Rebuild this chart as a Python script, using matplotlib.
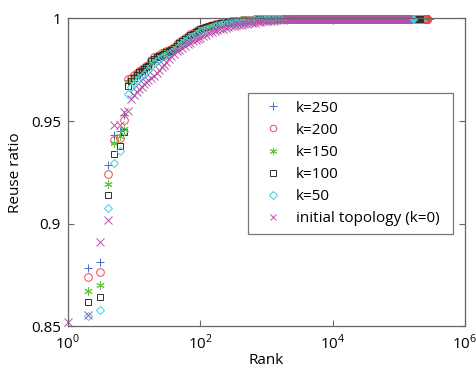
import numpy as np
import matplotlib
matplotlib.use('Agg')
import matplotlib.pyplot as plt

nan = float('nan')  # point below the visible range, not readable

# ranks at which the rising part of the curves was read
rank = [1, 2, 3, 4, 5, 6, 7, 8, 9, 10, 11, 12, 13, 14, 15, 16,
        18, 20, 22, 24, 26, 28, 30, 33, 36, 40, 44, 48, 53, 58, 64, 70, 77, 85, 93,
        100, 110, 120, 135, 150, 165, 180, 200, 220, 240, 265, 290, 320, 350, 385,
        420, 460, 500, 550, 600, 660, 730, 800, 880, 970, 1070, 1180, 1300, 1450,
        1600, 1800]

k250 = [nan, 0.8787, 0.8814, 0.9288, 0.943, 0.9453, 0.9531, 0.970, 0.9708, 0.972, 0.973, 0.974, 0.9748, 0.9755, 0.9765, 0.9772,
        0.9795, 0.9806, 0.9814, 0.982, 0.9826, 0.9832, 0.9837, 0.9843, 0.985, 0.986, 0.987, 0.9882, 0.9893, 0.9902, 0.9912, 0.992, 0.9928, 0.9936, 0.9943,
        0.9949, 0.9954, 0.9959, 0.9964, 0.9968, 0.9971, 0.9974, 0.9977, 0.9979, 0.9981, 0.9983, 0.9985, 0.9986, 0.9987, 0.9988,
        0.999, 0.9991, 0.9992, 0.9993, 0.9994, 0.9995, 0.9995, 0.9996, 0.9997, 0.9997, 0.9998, 0.9998, 0.9998, 0.9999,
        0.9999, 0.9995]
k200 = [nan, 0.8739, 0.8763, 0.9244, 0.941, 0.942, 0.9507, 0.9705, 0.9712, 0.9725, 0.9735, 0.9745, 0.9752, 0.976, 0.9768, 0.9775,
        0.9798, 0.981, 0.9818, 0.9824, 0.983, 0.9835, 0.984, 0.9846, 0.9853, 0.9863, 0.9873, 0.9885, 0.9896, 0.9905, 0.9914, 0.9922, 0.993, 0.9938, 0.9945,
        0.995, 0.9955, 0.996, 0.9965, 0.9969, 0.9972, 0.9975, 0.9978, 0.998, 0.9982, 0.9984, 0.9985, 0.9986, 0.9987, 0.9989,
        0.999, 0.9991, 0.9992, 0.9993, 0.9994, 0.9995, 0.9995, 0.9996, 0.9997, 0.9997, 0.9998, 0.9998, 0.9998, 0.9999,
        0.9999, 0.9995]
k150 = [nan, 0.8674, 0.870, 0.9194, 0.9395, 0.9426, 0.9462, 0.969, 0.970, 0.9715, 0.9728, 0.974, 0.9748, 0.9755, 0.9765, 0.9772,
        0.9795, 0.9806, 0.9814, 0.982, 0.9826, 0.9832, 0.9837, 0.9843, 0.985, 0.986, 0.987, 0.9882, 0.9893, 0.9902, 0.9912, 0.992, 0.9928, 0.9936, 0.9943,
        0.9949, 0.9954, 0.9959, 0.9964, 0.9968, 0.9971, 0.9974, 0.9977, 0.9979, 0.9981, 0.9983, 0.9985, 0.9986, 0.9987, 0.9988,
        0.999, 0.9991, 0.9992, 0.9993, 0.9994, 0.9995, 0.9995, 0.9996, 0.9997, 0.9997, 0.9998, 0.9998, 0.9998, 0.9999,
        0.9999, 0.9995]
k100 = [nan, 0.8617, 0.8643, 0.914, 0.934, 0.938, 0.9445, 0.967, 0.9695, 0.9712, 0.9725, 0.9738, 0.9746, 0.9753, 0.9762, 0.9769,
        0.9792, 0.9803, 0.9811, 0.9817, 0.9823, 0.9829, 0.9834, 0.984, 0.9847, 0.9857, 0.9867, 0.9879, 0.989, 0.99, 0.991, 0.9918, 0.9926, 0.9934, 0.9941,
        0.9947, 0.9952, 0.9957, 0.9962, 0.9966, 0.997, 0.9973, 0.9976, 0.9978, 0.998, 0.9982, 0.9984, 0.9985, 0.9986, 0.9988,
        0.9989, 0.999, 0.9991, 0.9992, 0.9993, 0.9994, 0.9995, 0.9996, 0.9996, 0.9997, 0.9997, 0.9998, 0.9998, 0.9998,
        0.9999, 0.9995]
k50 = [nan, 0.8552, 0.8581, 0.9077, 0.9296, 0.9352, 0.945, 0.963, 0.9665, 0.968, 0.9695, 0.971, 0.972, 0.973, 0.974, 0.9748,
       0.977, 0.9785, 0.9795, 0.9803, 0.981, 0.9817, 0.9822, 0.9829, 0.9836, 0.9846, 0.9856, 0.9868, 0.9879, 0.9889, 0.9899, 0.9908, 0.9916, 0.9924, 0.9931,
       0.9937, 0.9943, 0.9948, 0.9954, 0.9958, 0.9962, 0.9966, 0.9969, 0.9972, 0.9975, 0.9977, 0.9979, 0.9981, 0.9983, 0.9985,
       0.9986, 0.9988, 0.9989, 0.999, 0.9991, 0.9992, 0.9993, 0.9994, 0.9995, 0.9995, 0.9996, 0.9996, 0.9997, 0.9997,
       0.9998, 0.9995]
k0 = [0.852, 0.8557, 0.8913, 0.902, 0.948, 0.948, 0.9545, 0.955, 0.961, 0.9625, 0.964, 0.9655, 0.9668, 0.968, 0.969, 0.970,
      0.9712, 0.972, 0.9735, 0.975, 0.9762, 0.9775, 0.9786, 0.980, 0.9816, 0.9828, 0.984, 0.9847, 0.9857, 0.9866, 0.9874, 0.9881, 0.989, 0.9897, 0.9902,
      0.9905, 0.9913, 0.992, 0.9928, 0.9934, 0.9939, 0.9943, 0.9946, 0.995, 0.9954, 0.9958, 0.9961, 0.9964, 0.9966, 0.9967,
      0.997, 0.9973, 0.9975, 0.9977, 0.9979, 0.998, 0.9982, 0.9983, 0.9985, 0.9986, 0.9987, 0.9988, 0.9989, 0.999,
      0.999, 0.9992]

# flat part: about 0.9995 from rank 2000 up to the last rank of each run
plateau_start = 2000
plateau_value = 0.9995
last_rank = [2.9e5, 2.7e5, 2.3e5, 2.1e5, 1.63e5, 1.37e5]

names = ['k=250', 'k=200', 'k=150', 'k=100', 'k=50', 'initial topology (k=0)']
markers = ['+', 'o', (6, 2, 0), 's', 'D', 'x']
msizes = [6, 5.5, 6, 4.8, 4.5, 5.5]
colors = ['#3f6fd0', '#f04848', '#5cc83a', '#303030', '#4ec8dc', '#b850a8']

plt.rcParams['font.family'] = ['Open Sans', 'DejaVu Sans']
plt.rcParams['mathtext.fontset'] = 'custom'
plt.rcParams['mathtext.rm'] = 'Open Sans'

fig = plt.figure(figsize=(4.77, 3.68), dpi=100)
ax = fig.add_axes([0.1426, 0.1128, 0.8324, 0.8372])

for i, vals in enumerate([k250, k200, k150, k100, k50, k0]):
    flat_r = np.unique(np.geomspace(plateau_start, last_rank[i], 500).round())
    r = np.concatenate([rank, flat_r])
    v = np.concatenate([vals, np.full(len(flat_r), plateau_value)])
    # markers are not cut at the axes edge, as in the original figure
    ax.plot(r, v, linestyle='none', marker=markers[i], markersize=msizes[i],
            markerfacecolor='none', markeredgecolor=colors[i],
            markeredgewidth=0.7, label=names[i], clip_on=False)

ax.set_xscale('log')
ax.set_xlim(1, 1e6)
ax.set_ylim(0.85, 1.0)
ax.set_xticks([1, 1e2, 1e4, 1e6])
ax.set_xticklabels(['$10^{0}$', '$10^{2}$', '$10^{4}$', '$10^{6}$'])
ax.xaxis.set_minor_locator(matplotlib.ticker.NullLocator())
ax.set_yticks([0.85, 0.9, 0.95, 1.0])
ax.set_yticklabels(['0.85', '0.9', '0.95', '1'])
ax.tick_params(direction='in', top=True, right=True, length=4, width=0.8,
               color='#666666', labelsize=11, pad=5)
for s in ax.spines.values():
    s.set_color('#666666')
    s.set_linewidth(0.9)

ax.set_xlabel('Rank', fontsize=11, labelpad=0)
ax.set_ylabel('Reuse ratio', fontsize=11, labelpad=6)

leg = ax.legend(loc='upper left', bbox_to_anchor=(0.453, 0.307, 0.517, 0.451),
                mode='expand', fontsize=11, numpoints=1, handlelength=2.3,
                handletextpad=0.34, labelspacing=0.47, borderpad=0.5,
                markerscale=0.85, fancybox=False, framealpha=1, borderaxespad=0)
leg.get_frame().set_edgecolor('#777777')
leg.get_frame().set_linewidth(0.9)

fig.savefig('out.png', dpi=100)
